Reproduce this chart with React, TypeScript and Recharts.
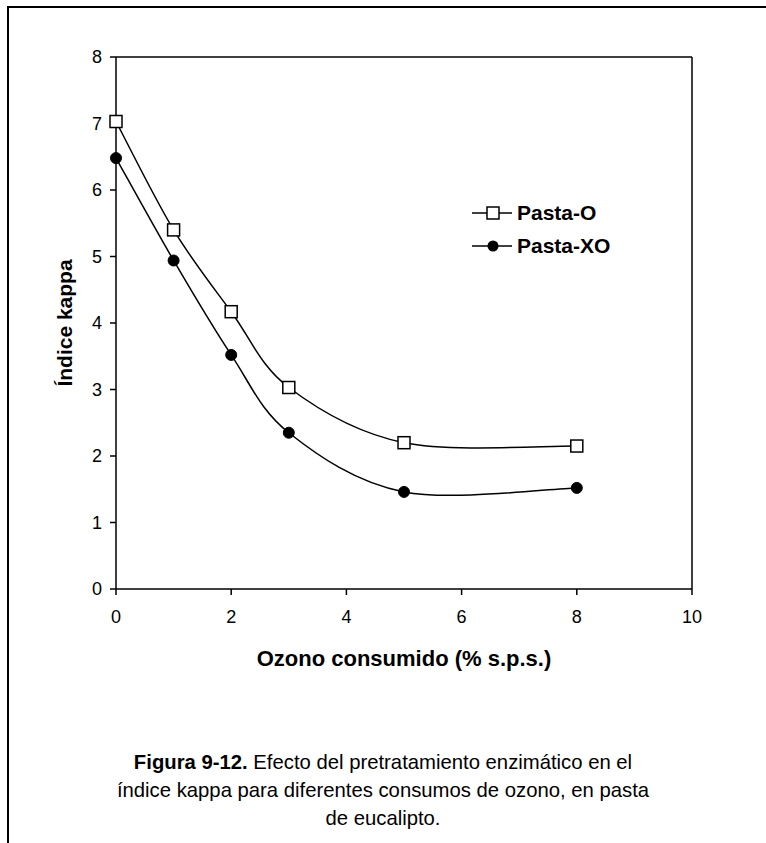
import React from 'react';
import { LineChart, Line, XAxis, YAxis, ReferenceLine, Label } from 'recharts';

const ozono = [0, 1, 2, 3, 5, 8];
const pastaO = [7.03, 5.4, 4.17, 3.03, 2.2, 2.15];
const pastaXO = [6.48, 4.94, 3.52, 2.35, 1.46, 1.52];
const xTicks = [0, 2, 4, 6, 8, 10];
const yTicks = [0, 1, 2, 3, 4, 5, 6, 7, 8];
const seriesNames = ['Pasta-O', 'Pasta-XO'];

const data = ozono.map((x, i) => ({ x, o: pastaO[i], xo: pastaXO[i] }));

const FONT = '"Liberation Sans", Arial, sans-serif';

// Excel-like smoothed curve (Catmull-Rom through the points)
function smoothCurve(context: any) {
  let pts: number[][] = [];
  return {
    areaStart() {},
    areaEnd() {},
    lineStart() {
      pts = [];
    },
    lineEnd() {
      if (!pts.length) return;
      context.moveTo(pts[0][0], pts[0][1]);
      for (let i = 0; i < pts.length - 1; i++) {
        const p0 = pts[i - 1] || pts[i];
        const p1 = pts[i];
        const p2 = pts[i + 1];
        const p3 = pts[i + 2] || pts[i + 1];
        const c1x = p1[0] + (p2[0] - p0[0]) / 6;
        const c1y = p1[1] + (p2[1] - p0[1]) / 6;
        const c2x = p2[0] - (p3[0] - p1[0]) / 6;
        const c2y = p2[1] - (p3[1] - p1[1]) / 6;
        context.bezierCurveTo(c1x, c1y, c2x, c2y, p2[0], p2[1]);
      }
    },
    point(x: number, y: number) {
      pts.push([+x, +y]);
    },
  };
}

const SquareDot = (props: any) => {
  const { cx, cy } = props;
  if (cx == null || cy == null) return null;
  return <rect x={cx - 6} y={cy - 6} width={12} height={12} fill="#fff" stroke="#000" strokeWidth={1.5} />;
};
const CircleDot = (props: any) => {
  const { cx, cy } = props;
  if (cx == null || cy == null) return null;
  return <circle cx={cx} cy={cy} r={5.5} fill="#000" stroke="#000" />;
};

const LegendBox = () => (
  <div style={{ position: 'absolute', left: 472, top: 196, fontFamily: FONT, fontWeight: 'bold', fontSize: 21, color: '#000' }}>
    {seriesNames.map((n, i) => (
      <div key={n} style={{ display: 'flex', alignItems: 'center', height: 33 }}>
        <svg width={42} height={16} style={{ marginRight: 3 }}>
          <line x1={0} y1={8} x2={40} y2={8} stroke="#000" strokeWidth={1.5} />
          {i === 0 ? (
            <rect x={15} y={2} width={12} height={12} fill="#fff" stroke="#000" strokeWidth={1.5} />
          ) : (
            <circle cx={21} cy={8} r={5.5} fill="#000" />
          )}
        </svg>
        <span>{n}</span>
      </div>
    ))}
  </div>
);

export default function App() {
  return (
    <div style={{ position: 'absolute', left: 0, top: 0, width: 766, height: 843, background: '#fff', overflow: 'hidden' }}>
      <div style={{ position: 'absolute', left: 7, top: 6, width: 770, height: 850, borderTop: '2px solid #000', borderLeft: '2px solid #000' }} />
      <div style={{ position: 'absolute', left: 0, top: 0 }}>
        <LineChart width={766} height={700} data={data} margin={{ top: 57, right: 74, left: 56, bottom: 81 }}>
          <XAxis
            dataKey="x"
            type="number"
            domain={[0, 10]}
            ticks={xTicks}
            height={30}
            stroke="#000"
            strokeWidth={1.5}
            tickSize={6}
            tick={{ fill: '#000', fontSize: 18, fontFamily: FONT }}
            tickMargin={15}
          >
            <Label value="Ozono consumido (% s.p.s.)" position="bottom" offset={31} style={{ fontFamily: FONT, fontWeight: 'bold', fontSize: 22, fill: '#000' }} />
          </XAxis>
          <YAxis
            type="number"
            domain={[0, 8]}
            ticks={yTicks}
            width={60}
            stroke="#000"
            strokeWidth={1.5}
            tickSize={6}
            tick={{ fill: '#000', fontSize: 18, fontFamily: FONT }}
            tickMargin={8}
          >
            <Label value="Índice kappa" angle={-90} position="left" offset={-9} style={{ fontFamily: FONT, fontWeight: 'bold', fontSize: 21, fill: '#000', textAnchor: 'middle' }} />
          </YAxis>
          <ReferenceLine y={8} stroke="#000" strokeWidth={1.5} />
          <ReferenceLine x={10} stroke="#000" strokeWidth={1.5} />
          <Line dataKey="o" name={seriesNames[0]} type={smoothCurve as any} stroke="#000" strokeWidth={1.5} dot={<SquareDot />} isAnimationActive={false} />
          <Line dataKey="xo" name={seriesNames[1]} type={smoothCurve as any} stroke="#000" strokeWidth={1.5} dot={<CircleDot />} isAnimationActive={false} />
        </LineChart>
      </div>
      <LegendBox />
      <div style={{ position: 'absolute', left: 0, width: 766, top: 748, textAlign: 'center', fontFamily: FONT, fontSize: 20.3, lineHeight: '28px', color: '#000' }}>
        <b>Figura 9-12.</b> Efecto del pretratamiento enzimático en el
        <br />
        índice kappa para diferentes consumos de ozono, en pasta
        <br />
        de eucalipto.
      </div>
    </div>
  );
}
